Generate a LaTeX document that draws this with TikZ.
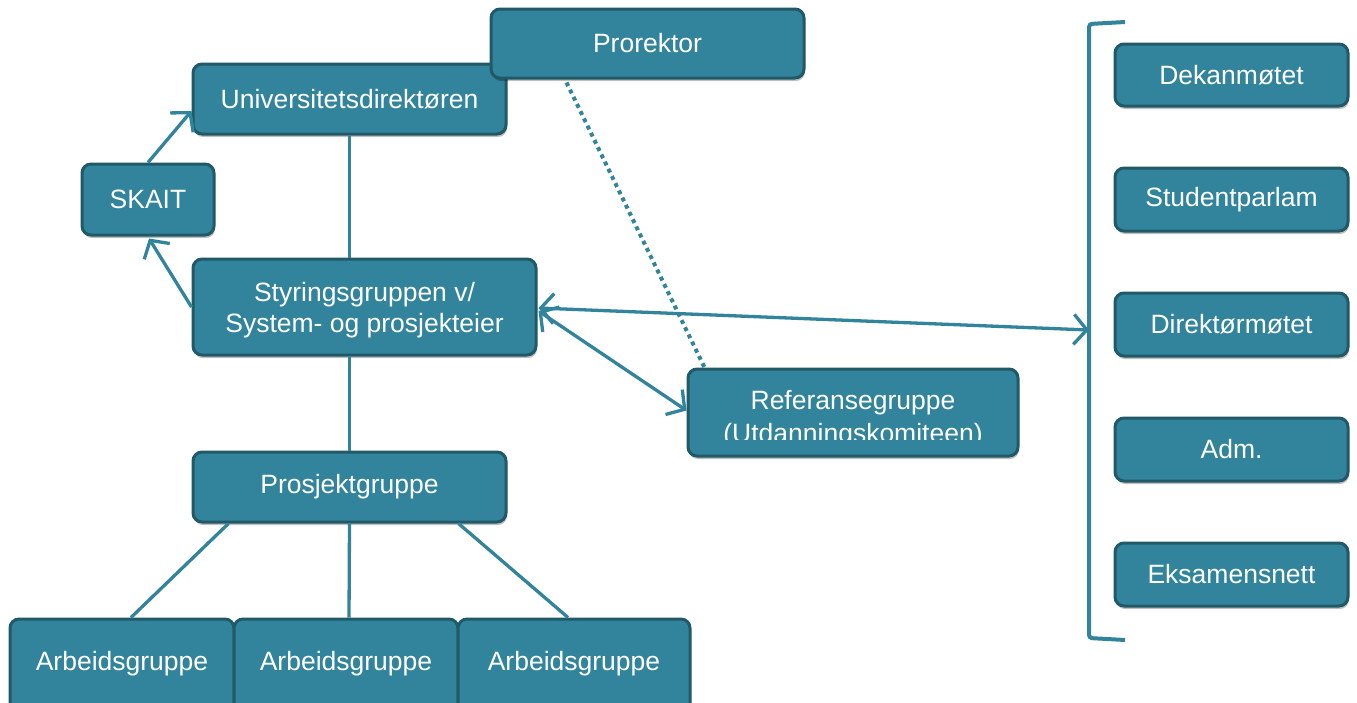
\documentclass[tikz,border=0pt]{standalone}
\usepackage{fontspec}
\setmainfont{Liberation Sans}
\usetikzlibrary{arrows.meta,shadows,calc}
\definecolor{tealfill}{HTML}{31849B}
\definecolor{tealedge}{HTML}{215968}
\definecolor{tealline}{HTML}{31849B}
\tikzset{
  boxfont/.style={font=\fontsize{26.5}{31}\selectfont},
  orgbox/.style={draw=tealedge, fill=tealfill, line width=3pt, rounded corners=9pt,
    text=white, inner sep=0pt, align=center, boxfont,
    drop shadow={shadow xshift=1pt, shadow yshift=-3pt, opacity=0.25, fill=black}},
  boxtext/.style={text=white, boxfont, align=center},
  link/.style={draw=tealline, line width=3.3pt},
  arrowlink/.style={link, -{Straight Barb[length=13pt,width=30pt,line width=3.3pt]}},
  biarrow/.style={link, {Straight Barb[length=13pt,width=30pt,line width=3.3pt]}-{Straight Barb[length=13pt,width=30pt,line width=3.3pt]}},
  dotlink/.style={draw=tealline, line width=4pt, dash pattern=on 4pt off 4pt}
}
\begin{document}
\begin{tikzpicture}[x=1pt,y=-1pt]
\clip (0,0) rectangle (1357,702);
\fill[white] (0,0) rectangle (1357,702);

\coordinate (bracketmid) at (1089,330);

% main hierarchy
\node[orgbox, minimum width=313pt, minimum height=70pt] (univ) at (349.5,99) {Universitetsdirektøren};
\node[orgbox, minimum width=343pt, minimum height=96pt] (styr) at (364.5,307) {};
\node[boxtext] (styrt) at (364.5,310) {Styringsgruppen v/\\System- og prosjekteier};
\node[orgbox, minimum width=313pt, minimum height=70pt] (prosj) at (349.5,487) {Prosjektgruppe};
\node[orgbox, minimum width=132pt, minimum height=71pt] (skait) at (148,199.5) {SKAIT};

\draw[link] (univ.south) -- (univ.south |- styr.north);
\draw[link] (univ.south |- styr.south) -- (prosj.north);

% working groups
\node[orgbox, minimum width=224pt, minimum height=100pt] (arb1) at (122,669) {};
\node[orgbox, minimum width=224pt, minimum height=100pt] (arb2) at (346,669) {};
\node[orgbox, minimum width=232pt, minimum height=100pt] (arb3) at (574,669) {};
\node[boxtext] (arb1t) at (122,664) {Arbeidsgruppe};
\node[boxtext] (arb2t) at (346,664) {Arbeidsgruppe};
\node[boxtext] (arb3t) at (574,664) {Arbeidsgruppe};

\draw[link] ($(prosj.south west)+(37,0)$) -- ($(arb1.north)+(9,0)$);
\draw[link] (prosj.south) -- ($(arb2.north)+(3,0)$);
\draw[link] ($(prosj.south west)+(267,0)$) -- ($(arb3.north)+(-6,0)$);

% SKAIT arrows
\draw[arrowlink] (skait.north) -- ($(univ.west)+(0,12)$);
\draw[arrowlink] (styr.west) -- ($(skait.south)+(1,2)$);

% reference group (second line cut off by the box edge) and rector
\node[orgbox, minimum width=330pt, minimum height=87pt] (ref) at (853,412.5) {};
\begin{scope}
  \clip (690,371) rectangle (1016,439);
  \node[boxtext, anchor=base] (reft1) at (853,409) {Referansegruppe};
  \node[boxtext, anchor=base] (reft2) at (853,442) {(Utdanningskomiteen)};
\end{scope}
\node[orgbox, minimum width=313pt, minimum height=69pt] (pror) at (647.5,43.5) {Prorektor};

\draw[dotlink] ($(pror.south west)+(77,3)$) -- ($(ref.north west)+(18,0)$);

\draw[biarrow] ($(styr.east)+(1,1)$) -- (bracketmid);
\draw[biarrow] ($(styr.east)+(1,4)$) -- ($(ref.west)+(0,-2)$);

% bracket of forums
\draw[draw=tealline, line width=4pt, rounded corners=3pt] (1125,22) -- (1089,24) -- (1089,638) -- (1125,640);

\node[orgbox, minimum width=233pt, minimum height=62pt] (dekan) at (1231.5,75) {Dekanmøtet};
\node[orgbox, minimum width=233pt, minimum height=63pt] (stud) at (1231.5,199.5) {Studentparlam};
\node[orgbox, minimum width=233pt, minimum height=63pt] (dir) at (1231.5,324.5) {Direktørmøtet};
\node[orgbox, minimum width=233pt, minimum height=63pt] (adm) at (1231.5,449.5) {Adm.};
\node[orgbox, minimum width=233pt, minimum height=63pt] (eks) at (1231.5,574.5) {Eksamensnett};
\end{tikzpicture}
\end{document}
